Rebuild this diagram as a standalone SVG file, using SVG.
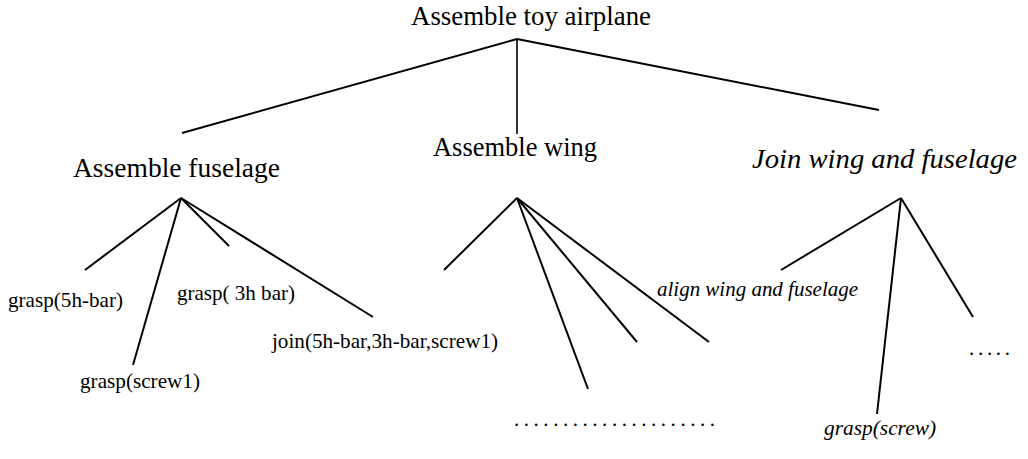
<svg xmlns="http://www.w3.org/2000/svg" width="1028" height="459" viewBox="0 0 1028 459">
<style>
.big{font-family:"Liberation Serif","Times New Roman",serif;font-size:27px;fill:#000}
.sm{font-family:"Liberation Serif","Times New Roman",serif;font-size:21px;fill:#000}
.it{font-style:italic}
.edge{stroke:#000;stroke-width:2;fill:none;stroke-linecap:butt}
</style>
<rect width="1028" height="459" fill="#fff"/>
<g id="connectors">
<line class="edge" x1="517" y1="39" x2="182" y2="133"/>
<line class="edge" x1="517" y1="39" x2="517" y2="134" style="stroke-width:1.6"/>
<line class="edge" x1="517" y1="39" x2="879" y2="110"/>
<line class="edge" x1="181" y1="198" x2="85" y2="270"/>
<line class="edge" x1="181" y1="198" x2="133" y2="365"/>
<line class="edge" x1="181" y1="198" x2="229" y2="246"/>
<line class="edge" x1="181" y1="198" x2="373" y2="317"/>
<line class="edge" x1="517" y1="198" x2="444" y2="270"/>
<line class="edge" x1="517" y1="198" x2="588" y2="389"/>
<line class="edge" x1="517" y1="198" x2="637" y2="342"/>
<line class="edge" x1="517" y1="198" x2="709" y2="342"/>
<line class="edge" x1="901" y1="198" x2="781" y2="270"/>
<line class="edge" x1="901" y1="198" x2="877" y2="414"/>
<line class="edge" x1="901" y1="198" x2="973" y2="317"/>
</g>
<g id="root"><text class="big" x="411" y="25" textLength="240" lengthAdjust="spacingAndGlyphs">Assemble toy airplane</text></g>
<g id="fuselage"><text class="big" x="73" y="177" textLength="207" lengthAdjust="spacingAndGlyphs">Assemble fuselage</text></g>
<g id="wing"><text class="big" x="433" y="156" textLength="164" lengthAdjust="spacingAndGlyphs">Assemble wing</text></g>
<g id="join"><text class="big it" x="752" y="168" style="font-size:28px" textLength="265" lengthAdjust="spacingAndGlyphs">Join wing and fuselage</text></g>
<g id="grasp5h"><text class="sm" x="8" y="307" textLength="115" lengthAdjust="spacingAndGlyphs">grasp(5h-bar)</text></g>
<g id="grasp3h"><text class="sm" x="177" y="300" textLength="118" lengthAdjust="spacingAndGlyphs" xml:space="preserve">grasp( 3h bar)</text></g>
<g id="joinbars"><text class="sm" x="272" y="348" textLength="226" lengthAdjust="spacingAndGlyphs">join(5h-bar,3h-bar,screw1)</text></g>
<g id="graspscrew1"><text class="sm" x="80" y="388" textLength="120" lengthAdjust="spacingAndGlyphs">grasp(screw1)</text></g>
<g id="align"><text class="sm it" x="657" y="296" textLength="201" lengthAdjust="spacingAndGlyphs">align wing and fuselage</text></g>
<g id="graspscrew"><text class="sm it" x="824" y="435" textLength="112" lengthAdjust="spacingAndGlyphs">grasp(screw)</text></g>
<g id="wingdots"><text class="sm" x="514" y="426" textLength="201" lengthAdjust="spacing">.....................</text></g>
<g id="joindots"><text class="sm" x="969" y="355" textLength="41" lengthAdjust="spacing">.....</text></g>
</svg>
